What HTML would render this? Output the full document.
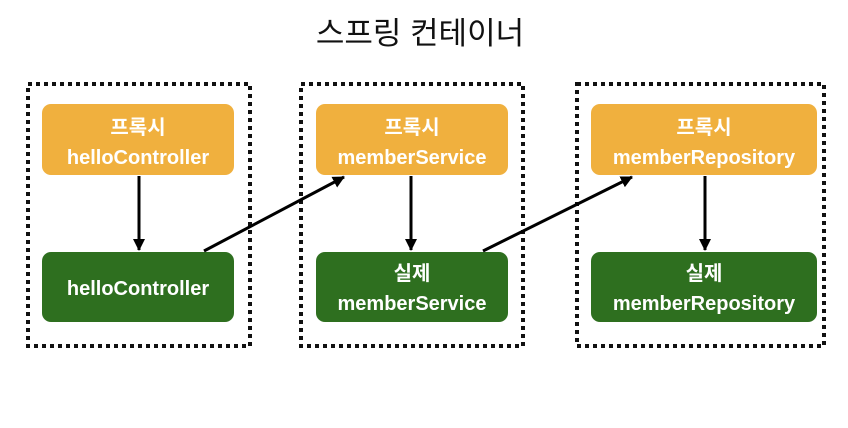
<!DOCTYPE html>
<html><head><meta charset="utf-8"><style>
html,body{margin:0;padding:0;background:#fff;width:848px;height:428px;overflow:hidden}
text{font-family:"Liberation Sans","Noto Sans CJK KR",sans-serif;font-weight:bold;fill:#fff;text-anchor:middle}
</style></head><body>
<svg width="848" height="428" viewBox="0 0 848 428" xmlns="http://www.w3.org/2000/svg">
<defs><marker id="a" markerWidth="14" markerHeight="14" refX="11" refY="6" orient="auto" markerUnits="userSpaceOnUse"><path d="M0,0 L12,6 L0,12 Z" fill="#000"/></marker></defs>
<text x="420" y="44" style="font-size:31px;font-weight:normal;fill:#111">스프링 컨테이너</text>
<g fill="none" stroke="#111" stroke-width="4" stroke-dasharray="4 4">
<rect x="28" y="84" width="222" height="262"/>
<rect x="301" y="84" width="222" height="262"/>
<rect x="577" y="84" width="247" height="262"/>
</g>
<g fill="#F0B03E">
<rect x="42" y="104" width="192" height="71" rx="9"/>
<rect x="316" y="104" width="192" height="71" rx="9"/>
<rect x="591" y="104" width="226" height="71" rx="9"/>
</g>
<g fill="#2E6F1F">
<rect x="42" y="252" width="192" height="70" rx="9"/>
<rect x="316" y="252" width="192" height="70" rx="9"/>
<rect x="591" y="252" width="226" height="70" rx="9"/>
</g>
<g style="font-size:20px">
<text x="138" y="134">프록시</text><text x="138" y="164">helloController</text>
<text x="412" y="134">프록시</text><text x="412" y="164">memberService</text>
<text x="704" y="134">프록시</text><text x="704" y="164">memberRepository</text>
<text x="138" y="295">helloController</text>
<text x="412" y="280">실제</text><text x="412" y="310">memberService</text>
<text x="704" y="280">실제</text><text x="704" y="310">memberRepository</text>
</g>
<g stroke="#000" stroke-width="3" marker-end="url(#a)">
<line x1="139" y1="176" x2="139" y2="250"/>
<line x1="411" y1="176" x2="411" y2="250"/>
<line x1="705" y1="176" x2="705" y2="250"/>
<line x1="204" y1="251" x2="344" y2="177"/>
<line x1="483" y1="251" x2="632" y2="177"/>
</g>
</svg>
</body></html>
